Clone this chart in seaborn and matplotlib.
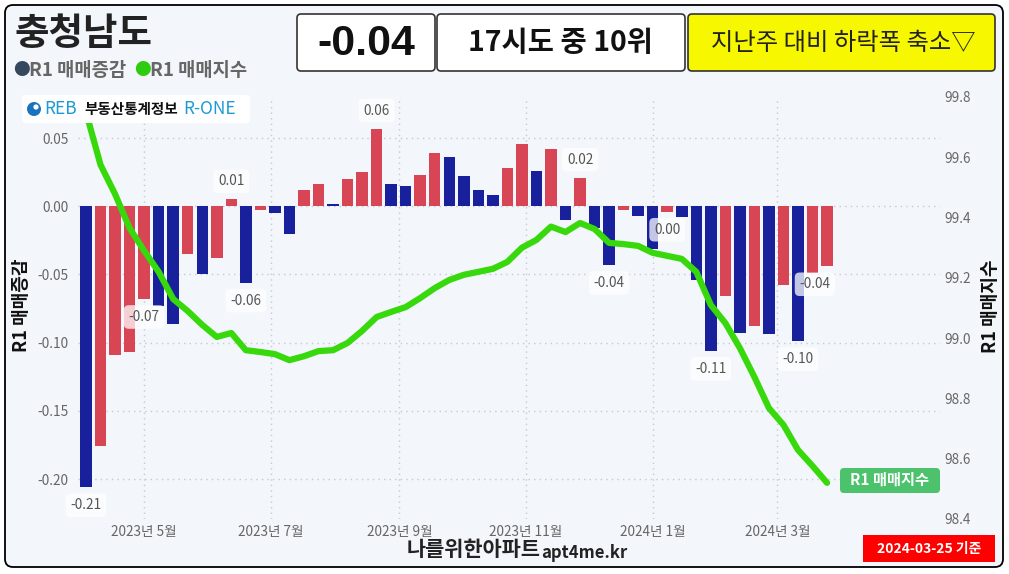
import matplotlib
matplotlib.use("Agg")
import matplotlib.pyplot as plt
from matplotlib.patches import FancyBboxPatch, Circle
from matplotlib.transforms import Affine2D
import numpy as np
import pandas as pd
import seaborn as sns

# weekly data, 2023-04-03 ~ 2024-03-25
start = pd.Timestamp("2023-04-03")
change = [-0.206, -0.176, -0.109, -0.107, -0.068, -0.073, -0.086, -0.035, -0.050, -0.038,
          0.005, -0.056, -0.003, -0.005, -0.020, 0.012, 0.016, 0.002, 0.020, 0.025,
          0.057, 0.016, 0.015, 0.023, 0.039, 0.036, 0.022, 0.012, 0.008, 0.028,
          0.046, 0.026, 0.042, -0.010, 0.021, -0.016, -0.043, -0.003, -0.007, -0.031,
          -0.004, -0.008, -0.054, -0.106, -0.066, -0.093, -0.088, -0.094, -0.058, -0.099,
          -0.049, -0.044]
index = [99.75, 99.575, 99.478, 99.365, 99.29, 99.22, 99.13, 99.09, 99.044, 99.004,
         99.017, 98.96, 98.954, 98.947, 98.927, 98.94, 98.957, 98.96, 98.984, 99.024,
         99.07, 99.087, 99.103, 99.133, 99.166, 99.193, 99.21, 99.22, 99.23, 99.253,
         99.3, 99.326, 99.37, 99.352, 99.382, 99.362, 99.316, 99.312, 99.306, 99.283,
         99.273, 99.263, 99.22, 99.11, 99.05, 98.967, 98.871, 98.768, 98.712, 98.629,
         98.576, 98.52]
label_idx = [0, 4, 10, 11, 20, 34, 36, 40, 43, 49, 51]

tick_dates = ["2023-05-01", "2023-07-01", "2023-09-01", "2023-11-01", "2024-01-01", "2024-03-01"]
tick_labels = ["2023년 5월", "2023년 7월", "2023년 9월", "2023년 11월", "2024년 1월", "2024년 3월"]
left_ticks = [-0.20, -0.15, -0.10, -0.05, 0.00, 0.05]
right_ticks = [98.4, 98.6, 98.8, 99.0, 99.2, 99.4, 99.6, 99.8]

RED = "#d84555"
BLUE = "#18209b"
GREEN = "#38d90c"

days = [7 * i for i in range(len(change))]
direction = ["down"] + ["up" if change[i] > change[i - 1] else "down" for i in range(1, len(change))]
df = pd.DataFrame({"day": days, "change": change, "dir": direction, "index": index})
tick_days = [(pd.Timestamp(d) - start).days for d in tick_dates]

sns.set_style("white")
plt.rcParams["font.family"] = ["Noto Sans CJK KR", "DejaVu Sans"]

fig = plt.figure(figsize=(10.09, 5.74), dpi=100)
fig.patch.set_facecolor("white")
# pixel coords (origin top-left) -> figure
pix = Affine2D().scale(1 / 1009, -1 / 574).translate(0, 1) + fig.transFigure


def box(x0, y0, x1, y1, fc, ec="none", lw=0, r=4, z=1):
    p = FancyBboxPatch((x0, y0), x1 - x0, y1 - y0, boxstyle=f"round,pad=0,rounding_size={r}",
                       fc=fc, ec=ec, lw=lw, transform=pix, zorder=z)
    fig.add_artist(p)


def txt(x, y, s, **kw):
    kw.setdefault("va", "center")
    kw.setdefault("ha", "left")
    fig.text(x, y, s, transform=pix, **kw)


# frame
box(5, 5, 1003, 567, fc="#f3f6fa", ec="black", lw=1.3, r=8, z=-5)

ax = fig.add_axes([78 / 1009, 55 / 574, 862 / 1009, 422 / 574])
ax.set_facecolor("none")
sns.barplot(data=df, x="day", y="change", hue="dir", palette={"up": RED, "down": BLUE},
            native_scale=True, width=0.79, dodge=False, legend=False, errorbar=None,
            saturation=1, linewidth=0, ax=ax)
ax.set_xlim(-3.85, 411.4)
ax.set_ylim(-0.2293, 0.0801)
ax.set_xticks(tick_days)
ax.set_xticklabels(tick_labels)
ax.set_yticks(left_ticks)
ax.set_yticklabels([f"{v:.2f}" for v in left_ticks])
ax.tick_params(axis="x", length=0, pad=4, labelsize=9.8, labelcolor="#666666")
ax.tick_params(axis="y", length=0, pad=7, labelsize=9.8, labelcolor="#666666")
ax.grid(True, ls=(0, (1, 3)), color="#c5cad2", lw=1)
ax.set_axisbelow(True)
ax.set_xlabel("")
ax.set_ylabel("")
for s in ax.spines.values():
    s.set_visible(False)

ax2 = ax.twinx()
sns.lineplot(data=df, x="day", y="index", ax=ax2, color=GREEN, lw=4.5, solid_capstyle="round")
ax2.set_ylim(98.4, 99.8)
ax2.set_yticks(right_ticks)
ax2.set_yticklabels([f"{v:.1f}" for v in right_ticks])
ax2.tick_params(axis="y", length=0, pad=3, labelsize=9.8, labelcolor="#666666")
ax2.set_xlabel("")
ax2.set_ylabel("")
ax2.grid(False)
for s in ax2.spines.values():
    s.set_visible(False)

# value labels
off = 0.0132
for i in label_idx:
    v = change[i]
    lab = f"{v:.2f}".replace("-0.00", "0.00")
    y = v + off if v > 0 else v - off
    x = days[i] - (5.8 if i == len(change) - 1 else 0)
    ax2.text(x, y, lab, transform=ax.transData, ha="center", va="center", fontsize=9.8,
             color="#555555", zorder=6,
             bbox=dict(boxstyle="round,pad=0.35", fc="white", ec="none", alpha=0.75))

# title + legend
txt(15, 33, "충청남도", fontsize=27, fontweight="bold", color="#222222")
txt(13, 70, "●", fontsize=12, color="#34495e")
txt(29, 70, "R1 매매증감", fontsize=13.5, fontweight="bold", color="#666666")
txt(134, 70, "●", fontsize=12, color="#2ecc0f")
txt(150, 70, "R1 매매지수", fontsize=13.5, fontweight="bold", color="#666666")

# top boxes
box(297, 14, 435, 71, fc="white", ec="#333333", lw=1.2, r=4, z=2)
txt(366, 44, "-0.04", ha="center", fontsize=31, fontweight="bold", color="#111111",
    family=["Liberation Sans", "DejaVu Sans"], zorder=3)
box(437, 14, 685, 71, fc="white", ec="#333333", lw=1.2, r=4, z=2)
txt(561, 43, "17시도 중 10위", ha="center", fontsize=20.5, fontweight="bold", color="#111111", zorder=3)
box(688, 14, 995, 71, fc="#f7f700", ec="#333333", lw=1.2, r=4, z=2)
txt(843, 43, "지난주 대비 하락폭 축소▽", ha="center", fontsize=17.5, color="#222222", zorder=3,
    family=["Noto Sans CJK KR", "DejaVu Sans"])

# logo
box(22, 95, 250, 123, fc="white", r=3, z=2)
c = Circle((34, 109), 7, transform=pix, fc="#1a73be", ec="none", zorder=3)
fig.add_artist(c)
c2 = Circle((36, 107), 2.6, transform=pix, fc="white", ec="none", zorder=4)
fig.add_artist(c2)
txt(44, 109, "REB", fontsize=12.5, color="#1b9ad6", zorder=3)
txt(84, 109, "부동산통계정보", fontsize=10.5, fontweight="bold", color="#111111", zorder=3)
txt(183, 109, "R-ONE", fontsize=12.5, color="#1e9ad6", zorder=3)

# axis titles
txt(22, 305, "R1 매매증감", ha="center", rotation=90, fontsize=13, fontweight="bold", color="#111111")
txt(990, 306, "R1 매매지수", ha="center", rotation=90, fontsize=13, fontweight="bold", color="#111111")

# line end tag
box(840, 468, 940, 493, fc="#4cc26c", r=4, z=3)
txt(890, 480, "R1 매매지수", ha="center", fontsize=11, fontweight="bold", color="white", zorder=4)

# footer
txt(407, 550, "나를위한아파트", fontsize=15, fontweight="bold", color="#222222")
txt(541, 553, "apt4me.kr", fontsize=12, fontweight="bold", color="#222222")
box(863, 535, 995, 562, fc="#ff0000", r=0, z=2)
txt(929, 549, "2024-03-25 기준", ha="center", fontsize=10, fontweight="bold", color="white", zorder=3)

fig.savefig("out.png", dpi=100)
